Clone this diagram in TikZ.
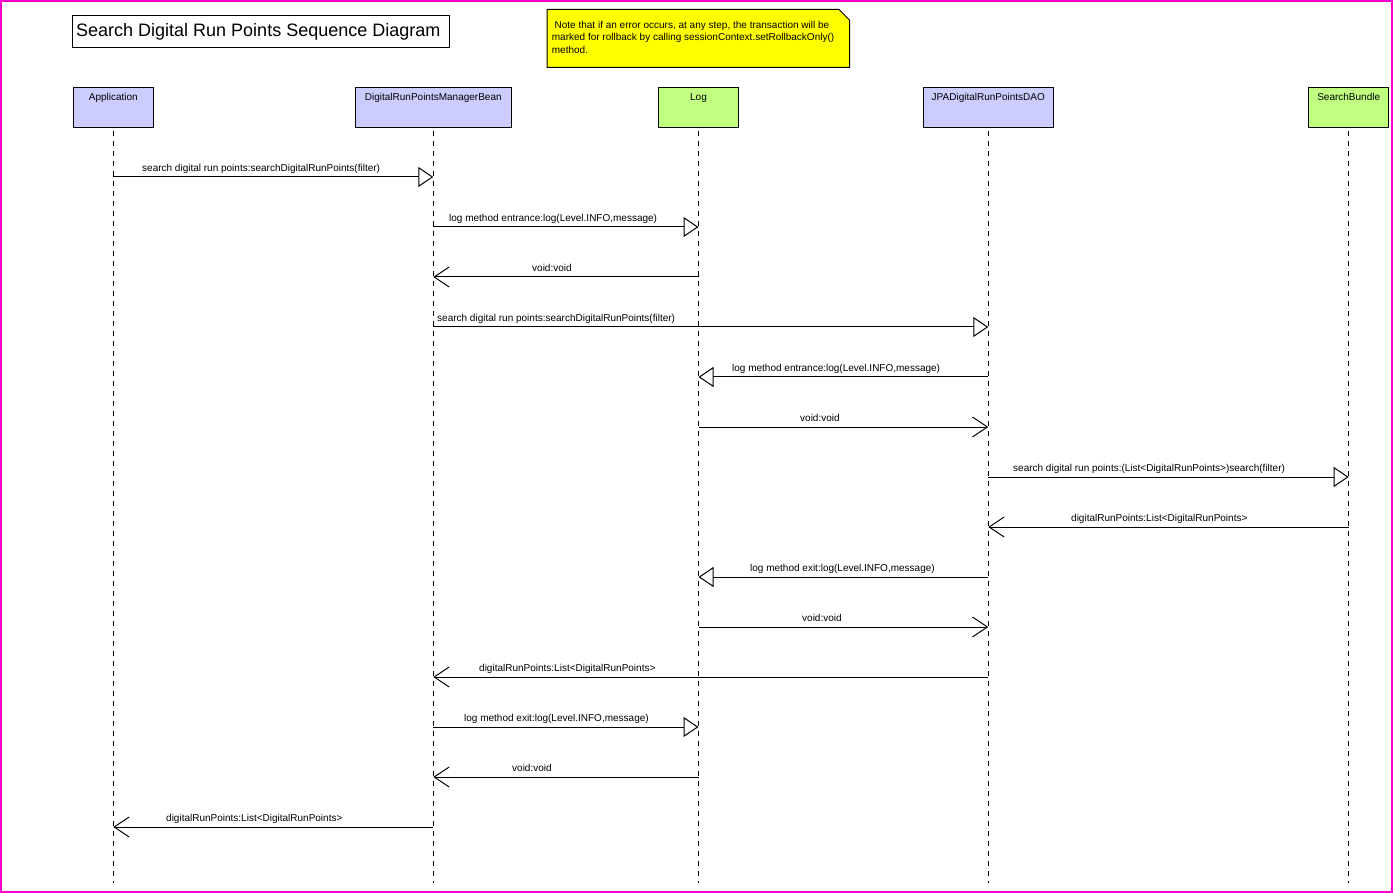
\documentclass[tikz,border=0pt]{standalone}
\usepackage{fontspec}
\setmainfont{Liberation Sans}
\usetikzlibrary{arrows.meta}

\definecolor{actorblue}{RGB}{204,204,255}
\definecolor{actorgreen}{RGB}{192,255,128}
\definecolor{notefill}{RGB}{255,255,0}
\definecolor{framepink}{RGB}{255,0,204}

\begin{document}
\begin{tikzpicture}[x=1pt,y=-1pt,
  lbl/.style={font=\fontsize{10}{12}\selectfont, inner sep=0pt, anchor=base west},
  actorbox/.style={draw=black, line width=1pt, minimum width=#1, minimum height=40pt,
    inner sep=0pt, outer sep=0pt},
  lifeline/.style={draw=black, line width=1pt, dash pattern=on 5pt off 5pt},
  call/.style={draw=black, line width=1pt, -{Triangle[open, length=15pt, width=20pt]}},
  reply/.style={draw=black, line width=1pt, -{Straight Barb[length=15pt, width=20pt]}}
]
\useasboundingbox (0,0) rectangle (1393,893);

% outer frame
\draw[framepink, line width=1.6pt] (0.8,0.8) rectangle (1392.2,892.2);

% title
\node[draw=black, line width=1pt, minimum width=377pt, minimum height=32pt,
      inner sep=0pt, anchor=north west] (titlebox) at (72,15) {};
\node[lbl, font=\fontsize{18}{20}\selectfont] (title) at (76,36.7)
  {Search Digital Run Points Sequence Diagram};

% note with folded corner
\draw[black, line width=1pt, fill=notefill]
  (547,9.5) -- (839,9.5) -- (849.5,20) -- (849.5,67.5) -- (547,67.5) -- cycle;
\node[lbl] (note1) at (551.7,28.5) {\ Note that if an error occurs, at any step, the transaction will be};
\node[lbl] (note2) at (551.7,41) {marked for rollback by calling sessionContext.setRollbackOnly()};
\node[lbl] (note3) at (551.7,53.5) {method.};

% participants
\node[actorbox=80pt,  fill=actorblue]  (app) at (113.3,107.3) {};
\node[actorbox=156pt, fill=actorblue]  (mgr) at (433.3,107.3) {};
\node[actorbox=80pt,  fill=actorgreen] (log) at (698.5,107.3) {};
\node[actorbox=130pt, fill=actorblue]  (dao) at (988.3,107.3) {};
\node[actorbox=80pt,  fill=actorgreen] (sb)  at (1348.7,107.3) {};

\node[lbl, anchor=base] (appT) at (app |- 0,101) {Application};
\node[lbl, anchor=base] (mgrT) at (mgr |- 0,101) {DigitalRunPointsManagerBean};
\node[lbl, anchor=base] (logT) at (log |- 0,101) {Log};
\node[lbl, anchor=base] (daoT) at (dao |- 0,101) {JPADigitalRunPointsDAO};
\node[lbl, anchor=base] (sbT)  at (sb |- 0,101)  {SearchBundle};

% lifelines
\coordinate (bottom) at (0,883);
\foreach \p in {app,mgr,log,dao,sb}
  \draw[lifeline] ([yshift=-4pt]\p.south) -- (\p |- bottom);

% message rows
\foreach \i/\y in {1/177,2/227,3/277,4/327,5/377,6/427,7/477,8/527,9/577,10/627,11/677,12/727,13/777,14/827}
  \coordinate (m\i) at (0,\y);

\draw[call]  (app |- m1)  -- (mgr |- m1);
\draw[call]  (mgr |- m2)  -- (log |- m2);
\draw[reply] (log |- m3)  -- (mgr |- m3);
\draw[call]  (mgr |- m4)  -- (dao |- m4);
\draw[call]  (dao |- m5)  -- (log |- m5);
\draw[reply] (log |- m6)  -- (dao |- m6);
\draw[call]  (dao |- m7)  -- (sb |- m7);
\draw[reply] (sb |- m8)   -- (dao |- m8);
\draw[call]  (dao |- m9)  -- (log |- m9);
\draw[reply] (log |- m10) -- (dao |- m10);
\draw[reply] (dao |- m11) -- (mgr |- m11);
\draw[call]  (mgr |- m12) -- (log |- m12);
\draw[reply] (log |- m13) -- (mgr |- m13);
\draw[reply] (mgr |- m14) -- (app |- m14);

% message labels
\node[lbl] (t1)  at (142,171.5)  {search digital run points:searchDigitalRunPoints(filter)};
\node[lbl] (t2)  at (449,221.5)  {log method entrance:log(Level.INFO,message)};
\node[lbl] (t3)  at (532,271.5)  {void:void};
\node[lbl] (t4)  at (437,321.5)  {search digital run points:searchDigitalRunPoints(filter)};
\node[lbl] (t5)  at (732,371.5)  {log method entrance:log(Level.INFO,message)};
\node[lbl] (t6)  at (800,421.5)  {void:void};
\node[lbl] (t7)  at (1013,471.5) {search digital run points:(List<DigitalRunPoints>)search(filter)};
\node[lbl] (t8)  at (1071,521.5) {digitalRunPoints:List<DigitalRunPoints>};
\node[lbl] (t9)  at (750,571.5)  {log method exit:log(Level.INFO,message)};
\node[lbl] (t10) at (802,621.5)  {void:void};
\node[lbl] (t11) at (479,671.5)  {digitalRunPoints:List<DigitalRunPoints>};
\node[lbl] (t12) at (464,721.5)  {log method exit:log(Level.INFO,message)};
\node[lbl] (t13) at (512,771.5)  {void:void};
\node[lbl] (t14) at (166,821.5)  {digitalRunPoints:List<DigitalRunPoints>};
\end{tikzpicture}
\end{document}
